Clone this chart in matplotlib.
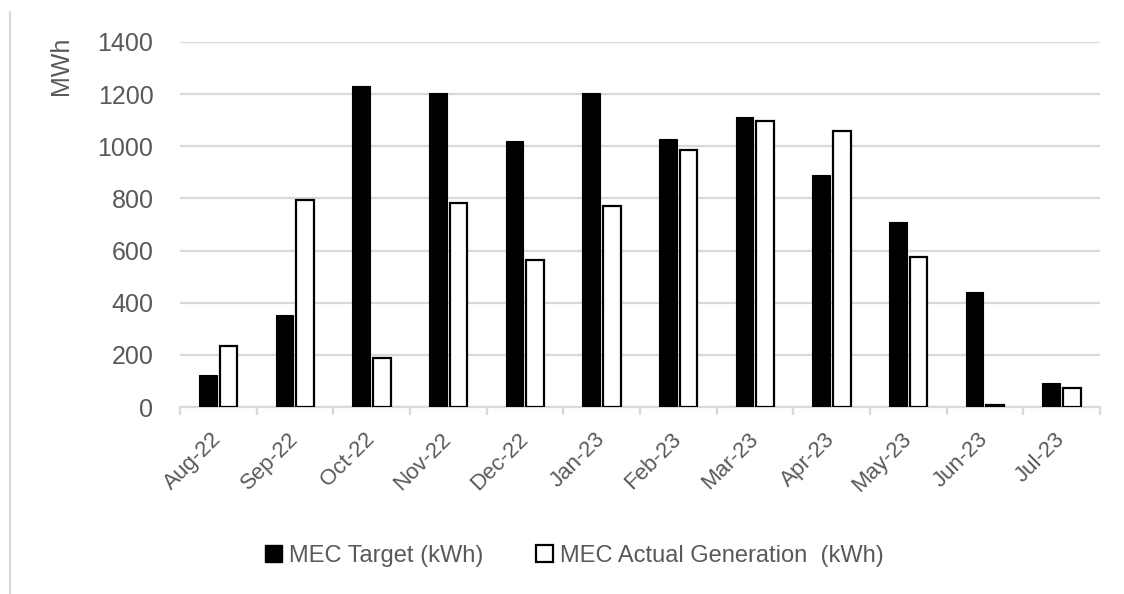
import numpy as np
import matplotlib
matplotlib.use("Agg")
import matplotlib.pyplot as plt
from matplotlib.patches import Patch
from matplotlib.lines import Line2D

plt.rcParams['font.family'] = ['Liberation Sans', 'DejaVu Sans']

# data (MWh)
months = ['Aug-22', 'Sep-22', 'Oct-22', 'Nov-22', 'Dec-22', 'Jan-23',
          'Feb-23', 'Mar-23', 'Apr-23', 'May-23', 'Jun-23', 'Jul-23']
target = [121, 351, 1230, 1205, 1022, 1205, 1028, 1114, 890, 711, 440, 93]
actual = [234, 795, 188, 782, 565, 770, 986, 1096, 1060, 577, 7, 74]

text_grey = '#595959'
grid_grey = '#d9d9d9'

fig = plt.figure(figsize=(11.24, 5.94), dpi=100)
ax = fig.add_axes([0.160, 0.3148, 0.8186, 0.6145])

x = np.arange(len(months))
w = 0.23
off = 0.135
ax.bar(x - off, target, w, color='black', edgecolor='black', linewidth=0.8, zorder=3)
ax.bar(x + off, actual, w, color='white', edgecolor='black', linewidth=1.6, zorder=3)

ax.set_xlim(-0.5, len(months) - 0.5)
ax.set_ylim(0, 1400)
ax.set_yticks(np.arange(0, 1401, 200))
ax.yaxis.grid(True, color=grid_grey, linewidth=1.6, zorder=0)
ax.set_axisbelow(True)

for s in ['top', 'right', 'left']:
    ax.spines[s].set_visible(False)
ax.spines['bottom'].set_color(grid_grey)
ax.spines['bottom'].set_linewidth(1.6)

# month labels at the centre, tick marks at the category edges
ax.set_xticks(x)
ax.set_xticklabels(months, rotation=45, ha='right', va='center',
                   rotation_mode='anchor', fontsize=16, color=text_grey)
ax.tick_params(axis='x', which='major', length=0, pad=21)
ax.set_xticks(np.arange(-0.5, len(months)), minor=True)
ax.tick_params(axis='x', which='minor', length=6, width=1.6, color=grid_grey)

ax.tick_params(axis='y', length=0, pad=19, labelsize=18, labelcolor=text_grey)
ax.set_ylabel('MWh', fontsize=18, color=text_grey)
ax.yaxis.set_label_coords(-0.116, 0.934)

handles = [Patch(facecolor='black', edgecolor='black'),
           Patch(facecolor='white', edgecolor='black', linewidth=1.6)]
fig.legend(handles, ['MEC Target (kWh)', 'MEC Actual Generation  (kWh)'],
           loc='center', bbox_to_anchor=(0.511, 0.064), ncol=2, frameon=False,
           fontsize=17, labelcolor=text_grey, handlelength=0.75, handleheight=0.75,
           handletextpad=0.3, columnspacing=2.2)

# left border of the original chart frame
fig.add_artist(Line2D([10 / 1124, 10 / 1124], [0.0, 1 - 12 / 594],
                      color=grid_grey, linewidth=1.6, transform=fig.transFigure))

fig.savefig('out.png', dpi=100)
